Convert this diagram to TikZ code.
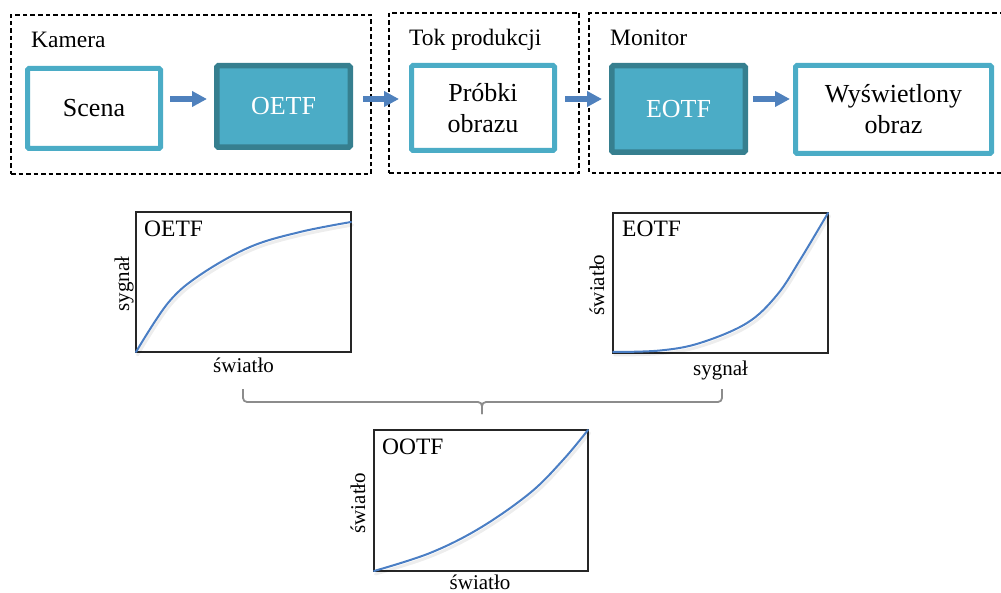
\documentclass[tikz,border=0pt]{standalone}
\usepackage{fontspec}
\setmainfont{Liberation Serif}
\usetikzlibrary{arrows.meta}
\definecolor{lteal}{HTML}{4BACC6}
\definecolor{dteal}{HTML}{367F8F}
\definecolor{arrowblue}{HTML}{4F81BD}
\definecolor{curveblue}{HTML}{4A7EC4}
\definecolor{bracegray}{HTML}{8C8C8C}
\begin{document}
\begin{tikzpicture}[x=1pt,y=-1pt,
  lightbox/.style={draw=lteal, line width=5pt, fill=white, rounded corners=1.5pt,
    font=\fontsize{26}{31}\selectfont, align=center, inner sep=0pt},
  darkbox/.style={draw=dteal, line width=5.5pt, fill=lteal, text=white, rounded corners=1.5pt,
    font=\fontsize{26}{31}\selectfont, align=center, inner sep=0pt},
  group/.style={draw=black, line width=1.1pt, dash pattern=on 4.5pt off 3pt, inner sep=0pt},
  grouplabel/.style={anchor=base west, font=\fontsize{23.5}{28}\selectfont, inner sep=0pt},
  flow/.style={draw=arrowblue, line width=5.5pt, -{Triangle[length=15pt,width=15pt]}},
  plotframe/.style={draw=black!85, line width=1.5pt, inner sep=0pt},
  plotname/.style={anchor=base west, font=\fontsize{23.5}{28}\selectfont, inner sep=0pt},
  axislabel/.style={font=\fontsize{21}{25}\selectfont, inner sep=0pt},
  curve/.style={draw=curveblue, line width=2pt, line cap=round},
  curveshadow/.style={draw=black, opacity=0.07, line width=3pt, line cap=round},
  bracestyle/.style={draw=bracegray, line width=1.8pt, rounded corners=4pt}
]
\useasboundingbox (0,0) rectangle (1001,593);

% groups
\node[group, minimum width=360pt, minimum height=159pt] (kam) at (191,94.5) {};
\node[group, minimum width=190pt, minimum height=160pt] (tok) at (484,93) {};
\draw[group] (1004,13) -- (589,13) -- (589,173) -- (1004,173);
\coordinate (mon) at (589,13);
\node[grouplabel] (kamlab) at (31,48) {Kamera};
\node[grouplabel] (toklab) at (409,46) {Tok produkcji};
\node[grouplabel] (monlab) at (610,46) {Monitor};

% boxes
\node[lightbox, minimum width=133pt, minimum height=80pt] (scena) at (94,108.5) {Scena};
\node[darkbox, minimum width=133.5pt, minimum height=81.5pt] (oetf) at (283.5,106.5) {OETF};
\node[lightbox, minimum width=143pt, minimum height=85pt] (probki) at (483,108) {Próbki\\obrazu};
\node[darkbox, minimum width=133.5pt, minimum height=86.5pt] (eotf) at (678.5,109) {EOTF};
\node[lightbox, minimum width=196pt, minimum height=88pt] (wysw) at (893.5,109.5) {Wyświetlony\\obraz};

% arrows
\coordinate (row) at (0,99);
\draw[flow, shorten <=7pt, shorten >=7pt] (scena.east |- row) -- (oetf.west |- row);
\draw[flow, shorten <=10pt, shorten >=10pt] (oetf.east |- row) -- (probki.west |- row);
\draw[flow, shorten <=8pt, shorten >=7pt] (probki.east |- row) -- (eotf.west |- row);
\draw[flow, shorten <=5pt, shorten >=3pt] (eotf.east |- row) -- (wysw.west |- row);

% OETF plot
\node[plotframe, minimum width=215pt, minimum height=140pt] (p1) at (243.5,282) {};
\draw[curveshadow, shift={(1.5,3)}] plot[smooth, tension=0.6] coordinates {(136,352) (168,303) (200,275) (250,247) (300,232) (351,222)};
\draw[curve] plot[smooth, tension=0.6] coordinates {(136,352) (168,303) (200,275) (250,247) (300,232) (351,222)};
\node[plotname] (p1name) at (144,237) {OETF};
\node[axislabel, anchor=base] (p1x) at (243.5,373) {światło};
\node[axislabel, rotate=90] (p1y) at (124,284) {sygnał};

% EOTF plot
\node[plotframe, minimum width=215pt, minimum height=140pt] (p2) at (720.5,283) {};
\draw[curveshadow, shift={(1.5,3)}] plot[smooth, tension=0.6] coordinates {(613,352) (660,350.5) (700,343) (747,323) (777,295) (800,260) (828,213)};
\draw[curve] plot[smooth, tension=0.6] coordinates {(613,352) (660,350.5) (700,343) (747,323) (777,295) (800,260) (828,213)};
\node[plotname] (p2name) at (622,237) {EOTF};
\node[axislabel, anchor=base] (p2x) at (720.5,375) {sygnał};
\node[axislabel, rotate=90] (p2y) at (597,285) {światło};

% brace
\coordinate (bl) at (243,389);
\coordinate (br) at (722,389);
\coordinate (bm) at (482,414);
\draw[bracestyle] (bl) |- (bm |- 0,402) -- (bm);
\draw[bracestyle] (br) |- (bm |- 0,402) -- (bm);

% OOTF plot
\node[plotframe, minimum width=214pt, minimum height=141pt] (p3) at (481,500.5) {};
\draw[curveshadow, shift={(1.5,3)}] plot[smooth, tension=0.6] coordinates {(374,571) (430,553) (480,528) (530,493) (563,460) (588,430)};
\draw[curve] plot[smooth, tension=0.6] coordinates {(374,571) (430,553) (480,528) (530,493) (563,460) (588,430)};
\node[plotname] (p3name) at (382,454) {OOTF};
\node[axislabel, anchor=base] (p3x) at (480,589) {światło};
\node[axislabel, rotate=90] (p3y) at (358,503) {światło};
\end{tikzpicture}
\end{document}
